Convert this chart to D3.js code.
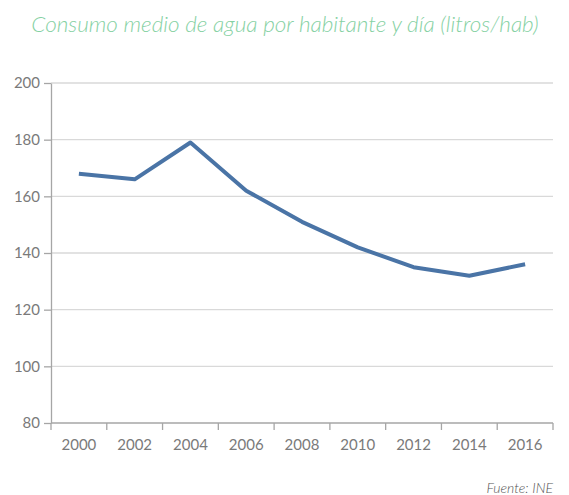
<!DOCTYPE html>
<html><head><meta charset="utf-8">
<script src="https://cdn.jsdelivr.net/npm/d3@7"></script>
<style>body{margin:0;background:#fff;}svg{display:block;}</style>
</head><body>
<script>
const years = ["2000","2002","2004","2006","2008","2010","2012","2014","2016"];
const consumo = [168,166,179,162,151,142,135,132,136];
const yTicks = [80,100,120,140,160,180,200];
const titleText = "Consumo medio de agua por habitante y día (litros/hab)";
const sourceText = "Fuente: INE";

const W=569,H=495;
const m={left:51,right:16,top:83,bottom:72};
const svg=d3.select("body").append("svg").attr("width",W).attr("height",H);
const x=d3.scaleBand().domain(years).range([m.left,W-m.right]);
const y=d3.scaleLinear().domain([80,200]).range([H-m.bottom,m.top]);

svg.append("text").attr("x",285).attr("y",32).attr("text-anchor","middle")
  .attr("font-family","Lato").attr("font-weight",300).attr("font-style","italic")
  .attr("font-size",22.5).attr("fill","#86d1a3").text(titleText);

// grid
svg.append("g").selectAll("line").data(yTicks.filter(d=>d>80)).join("line")
  .attr("x1",m.left).attr("x2",W-m.right).attr("y1",d=>y(d)).attr("y2",d=>y(d))
  .attr("stroke","#d9d9d9").attr("stroke-width",1.3);

const ya=svg.append("g").attr("transform",`translate(${m.left},0)`)
  .call(d3.axisLeft(y).tickValues(yTicks).tickSize(7).tickPadding(4).tickSizeOuter(0));
const xa=svg.append("g").attr("transform",`translate(0,${H-m.bottom})`)
  .call(d3.axisBottom(x).tickSize(0).tickPadding(16));
xa.select(".domain").remove();
svg.append("line").attr("x1",m.left).attr("x2",W-m.right).attr("y1",y(80)).attr("y2",y(80)).attr("stroke","#a6a6a6").attr("stroke-width",1.3);
const bounds=[...years.map(d=>x(d)),x(years[years.length-1])+x.bandwidth()];
svg.append("g").selectAll("line").data(bounds).join("line")
  .attr("x1",d=>d).attr("x2",d=>d).attr("y1",y(80)).attr("y2",y(80)+7)
  .attr("stroke","#a6a6a6").attr("stroke-width",1.3);

[ya,xa].forEach(a=>{
  a.selectAll(".domain,line").attr("stroke","#a6a6a6").attr("stroke-width",1.3);
  a.selectAll("text").attr("font-family","Lato").attr("font-weight",400).attr("font-size",15).attr("fill","#7a7a7a");
});

const line=d3.line().x((d,i)=>x(years[i])+x.bandwidth()/2).y(d=>y(d));
svg.append("path").datum(consumo).attr("d",line).attr("fill","none")
  .attr("stroke","#4a74a6").attr("stroke-width",4).attr("stroke-linejoin","round");

svg.append("text").attr("x",W-m.right).attr("y",493).attr("text-anchor","end")
  .attr("font-family","Lato").attr("font-weight",300).attr("font-style","italic")
  .attr("font-size",14).attr("fill","#555").text(sourceText);
</script>
</body></html>
